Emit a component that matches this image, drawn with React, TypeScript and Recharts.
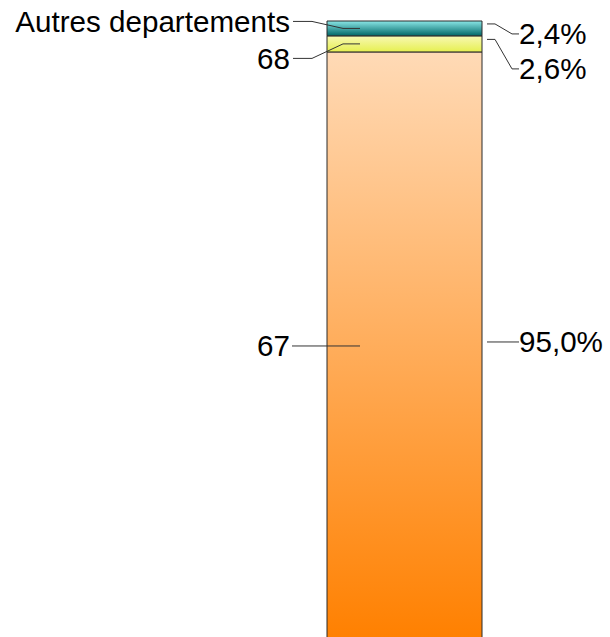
import { BarChart, Bar, XAxis, YAxis, LabelList } from 'recharts';

// bottom to top, as stacked
const segments = ['67', '68', 'Autres departements'];
const shares = [95.0, 2.6, 2.4];
const shareLabels = ['95,0%', '2,6%', '2,4%'];

const keys = ['s0', 's1', 's2'];
const rows = [
  segments.reduce((row: Record<string, number | string>, _s, i) => {
    row[keys[i]] = shares[i];
    return row;
  }, { name: 'total' }),
];

const FILLS = ['url(#gOrange)', 'url(#gYellow)', 'url(#gTeal)'];

// leader line shapes per segment (left text line y / right text line y, relative to segment middle)
const LEADERS = [
  { leftY: 0, rightY: -4, straight: true },
  { leftY: 14.5, rightY: 25, straight: false },
  { leftY: -7, rightY: 5.5, straight: false },
];

const FONT = '"Liberation Sans", Arial, sans-serif';

function makeLabel(i: number) {
  return (props: any) => {
    const vb = props.viewBox || {};
    const x = Number(props.x ?? vb.x);
    const y = Number(props.y ?? vb.y);
    const w = Number(props.width ?? vb.width);
    const h = Number(props.height ?? vb.height);
    const mid = y + h / 2;
    const right = x + w;
    const L = LEADERS[i];
    const leftPts = L.straight
      ? [[x - 35, mid], [x + 33, mid]]
      : [[x - 34, mid + L.leftY], [x - 15, mid + L.leftY], [x + 16, mid], [x + 33, mid]];
    const rightPts = L.straight
      ? [[right + 5, mid + L.rightY], [right + 37, mid + L.rightY]]
      : [[right + 5, mid - 4.5], [right + 13, mid - 4.5], [right + 30, mid + L.rightY], [right + 37, mid + L.rightY]];
    const leftTextY = L.straight ? mid : mid + L.leftY;
    const rightTextY = mid + L.rightY;
    return (
      <g>
        <polyline points={leftPts.map((p) => p.join(',')).join(' ')} fill="none" stroke="#333" strokeWidth={1} />
        <polyline points={rightPts.map((p) => p.join(',')).join(' ')} fill="none" stroke="#333" strokeWidth={1} />
        <text x={x - 37} y={leftTextY + 10.5} textAnchor="end" fontSize={29.6} fontFamily={FONT} fill="#000">
          {segments[i]}
        </text>
        <text x={right + 37} y={rightTextY + 10.5} textAnchor="start" fontSize={29.6} fontFamily={FONT} fill="#000">
          {shareLabels[i]}
        </text>
      </g>
    );
  };
}

export default function App() {
  return (
    <div style={{ position: 'absolute', left: 0, top: 0, width: 610, height: 637, overflow: 'hidden', background: '#fff' }}>
      <BarChart
        width={610}
        height={660}
        data={rows}
        stackOffset="expand"
        margin={{ top: 21, right: 128, bottom: 20, left: 327 }}
        barCategoryGap="0%"
        barGap={0}
      >
        <defs>
          <linearGradient id="gOrange" x1="0" y1="0" x2="0" y2="1">
            <stop offset="0%" stopColor="#ffdab6" />
            <stop offset="100%" stopColor="#ff8000" />
          </linearGradient>
          <linearGradient id="gYellow" x1="0" y1="0" x2="0" y2="1">
            <stop offset="0%" stopColor="#f8f8b4" />
            <stop offset="100%" stopColor="#e6f050" />
          </linearGradient>
          <linearGradient id="gTeal" x1="0" y1="0" x2="0" y2="1">
            <stop offset="0%" stopColor="#8ae6e6" />
            <stop offset="100%" stopColor="#006666" />
          </linearGradient>
        </defs>
        <XAxis dataKey="name" hide />
        <YAxis hide domain={[0, 1]} />
        {keys.map((k, i) => (
          <Bar
            key={k}
            dataKey={k}
            stackId="a"
            fill={FILLS[i]}
            stroke="#2a2a2a"
            strokeWidth={1}
            isAnimationActive={false}
          >
            <LabelList dataKey={k} content={makeLabel(i)} />
          </Bar>
        ))}
      </BarChart>
    </div>
  );
}
